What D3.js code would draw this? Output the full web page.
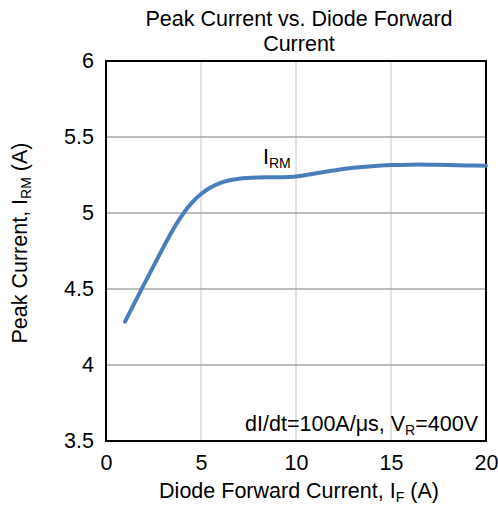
<!DOCTYPE html>
<html><head><meta charset="utf-8">
<script src="https://cdn.jsdelivr.net/npm/d3@7"></script>
<style>body{margin:0;background:#fff}svg{display:block;font-family:"Liberation Sans",Arial,sans-serif}</style>
</head><body>
<script>
const forwardCurrent = [1, 2, 3, 3.5, 4, 4.5, 5, 5.5, 6, 6.5, 7, 8, 9, 10, 11, 12, 13, 14, 15, 16, 17, 18, 19, 20];
const peakCurrent =    [4.285, 4.53, 4.77, 4.885, 4.985, 5.065, 5.125, 5.168, 5.197, 5.215, 5.226, 5.234, 5.235, 5.24, 5.26, 5.28, 5.297, 5.308, 5.315, 5.318, 5.318, 5.316, 5.313, 5.311];
const xTicks = [0, 5, 10, 15, 20];
const yTicks = [3.5, 4, 4.5, 5, 5.5, 6];

const W = 498, H = 510;
const m = {l: 106, r: 12, t: 61, b: 69};
const svg = d3.select("body").append("svg").attr("width", W).attr("height", H);
const x = d3.scaleLinear().domain([0, 20]).range([m.l, W - m.r]);
const y = d3.scaleLinear().domain([3.5, 6]).range([H - m.b, m.t]);
const FS = 21.5, SUB = 14;

// grid
svg.append("g").selectAll("line").data(xTicks.slice(1, -1)).join("line")
  .attr("x1", d => x(d)).attr("x2", d => x(d)).attr("y1", y(6)).attr("y2", y(3.5))
  .attr("stroke", "#d9d9d9").attr("stroke-width", 1.5);
svg.append("g").selectAll("line").data(yTicks.slice(1, -1)).join("line")
  .attr("x1", x(0)).attr("x2", x(20)).attr("y1", d => y(d)).attr("y2", d => y(d))
  .attr("stroke", "#a6a6a6").attr("stroke-width", 1.5);

// frame
svg.append("rect").attr("x", x(0)).attr("y", y(6)).attr("width", x(20) - x(0)).attr("height", y(3.5) - y(6))
  .attr("fill", "none").attr("stroke", "#000").attr("stroke-width", 2);

// axes labels
const xAxis = d3.axisBottom(x).tickValues(xTicks).tickSize(0).tickPadding(14).tickFormat(d3.format("d"));
const gx = svg.append("g").attr("transform", `translate(0,${y(3.5)})`).call(xAxis);
gx.select(".domain").remove();
gx.selectAll("text").attr("font-size", FS).attr("fill", "#000").attr("font-family", "Liberation Sans, Arial, sans-serif");

const yAxis = d3.axisLeft(y).tickValues(yTicks).tickSize(0).tickPadding(12).tickFormat(d => d);
const gy = svg.append("g").attr("transform", `translate(${x(0)},0)`).call(yAxis);
gy.select(".domain").remove();
gy.selectAll("text").attr("font-size", FS).attr("fill", "#000").attr("font-family", "Liberation Sans, Arial, sans-serif");

// curve
const line = d3.line().x((d, i) => x(forwardCurrent[i])).y(d => y(d)).curve(d3.curveCatmullRom.alpha(0.5));
svg.append("path").datum(peakCurrent).attr("d", line)
  .attr("fill", "none").attr("stroke", "#4a7ebb").attr("stroke-width", 4).attr("stroke-linecap", "round");

// title
const title = svg.append("text").attr("text-anchor", "middle").attr("font-size", FS).attr("fill", "#000");
title.append("tspan").attr("x", 299).attr("y", 26).text("Peak Current vs. Diode Forward");
title.append("tspan").attr("x", 299).attr("y", 51).text("Current");

// x-axis title
const xt = svg.append("text").attr("x", 299).attr("y", 498).attr("text-anchor", "middle").attr("font-size", FS).attr("fill", "#000");
xt.append("tspan").text("Diode Forward Current, I");
xt.append("tspan").attr("font-size", SUB).attr("dy", 4).text("F");
xt.append("tspan").attr("dy", -4).text(" (A)");

// y-axis title
const yt = svg.append("text").attr("transform", "translate(27,243) rotate(-90)").attr("text-anchor", "middle").attr("font-size", FS).attr("fill", "#000");
yt.append("tspan").text("Peak Current, I");
yt.append("tspan").attr("font-size", SUB).attr("dy", 4).text("RM");
yt.append("tspan").attr("dy", -4).text(" (A)");

// IRM label
const lab = svg.append("text").attr("x", 263).attr("y", 164).attr("font-size", FS).attr("fill", "#000");
lab.append("tspan").text("I");
lab.append("tspan").attr("font-size", SUB).attr("dy", 4).text("RM");

// condition
const cond = svg.append("text").attr("x", 478).attr("y", 431).attr("text-anchor", "end").attr("font-size", FS).attr("fill", "#000");
cond.append("tspan").text("dI/dt=100A/μs, V");
cond.append("tspan").attr("font-size", SUB).attr("dy", 4).text("R");
cond.append("tspan").attr("dy", -4).text("=400V");
</script>
</body></html>
